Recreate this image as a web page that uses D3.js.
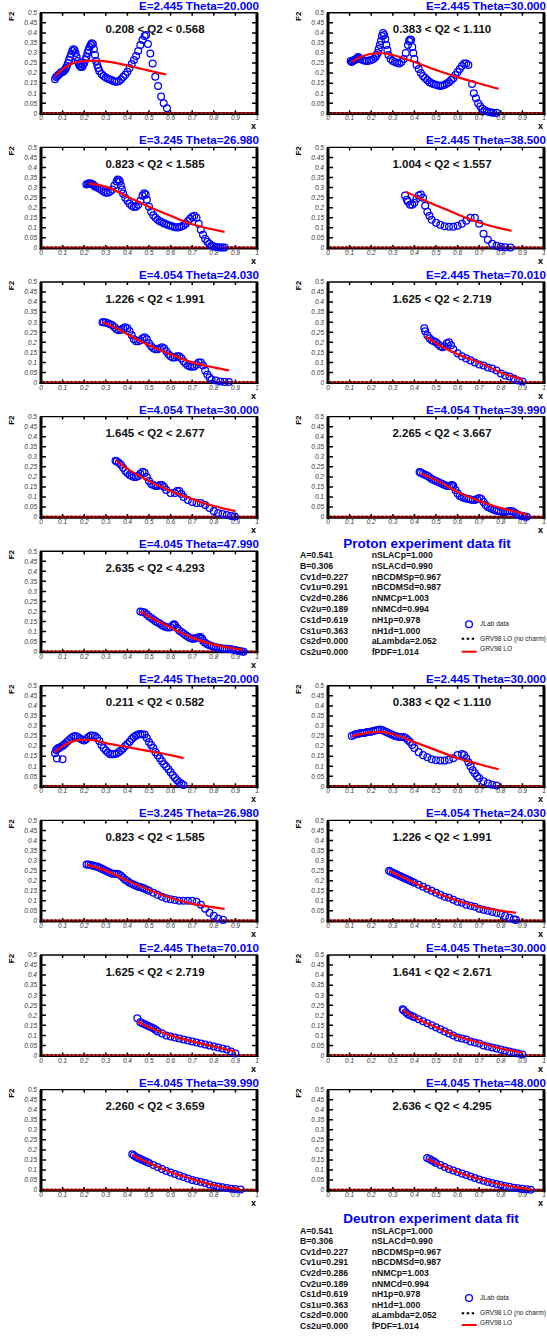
<!DOCTYPE html>
<html>
<head>
<meta charset="utf-8">
<script src="https://cdn.jsdelivr.net/npm/d3@7"></script>
<style>
  body { margin: 0; background: #fff; }
  svg { display: block; font-family: "Liberation Sans", Arial, sans-serif; }
</style>
</head>
<body>
<svg id="chart" width="547" height="1336"></svg>
<script>
// ---- data ----
var titles = [
  'E=2.445 Theta=20.000', 'E=2.445 Theta=30.000',
  'E=3.245 Theta=26.980', 'E=2.445 Theta=38.500',
  'E=4.054 Theta=24.030', 'E=2.445 Theta=70.010',
  'E=4.054 Theta=30.000', 'E=4.054 Theta=39.990',
  'E=4.045 Theta=47.990',
  'E=2.445 Theta=20.000', 'E=2.445 Theta=30.000',
  'E=3.245 Theta=26.980', 'E=4.054 Theta=24.030',
  'E=2.445 Theta=70.010', 'E=4.045 Theta=30.000',
  'E=4.045 Theta=39.990', 'E=4.045 Theta=48.000'
];
var q2Labels = [
  '0.208 < Q2 < 0.568', '0.383 < Q2 < 1.110',
  '0.823 < Q2 < 1.585', '1.004 < Q2 < 1.557',
  '1.226 < Q2 < 1.991', '1.625 < Q2 < 2.719',
  '1.645 < Q2 < 2.677', '2.265 < Q2 < 3.667',
  '2.635 < Q2 < 4.293',
  '0.211 < Q2 < 0.582', '0.383 < Q2 < 1.110',
  '0.823 < Q2 < 1.585', '1.226 < Q2 < 1.991',
  '1.625 < Q2 < 2.719', '1.641 < Q2 < 2.671',
  '2.260 < Q2 < 3.659', '2.636 < Q2 < 4.295'
];
// grid slot (col,row) of each panel
var slots = [[0,0],[1,0],[0,1],[1,1],[0,2],[1,2],[0,3],[1,3],[0,4],
             [0,5],[1,5],[0,6],[1,6],[0,7],[1,7],[0,8],[1,8]];

var jlab1 = [[0.065,0.17],[0.07,0.18],[0.075,0.185],[0.08,0.19],[0.085,0.195],[0.09,0.2],[0.095,0.205],[0.1,0.205],[0.105,0.21],[0.11,0.215],[0.115,0.225],[0.12,0.235],[0.125,0.25],[0.13,0.265],[0.135,0.28],[0.14,0.295],[0.145,0.31],[0.15,0.318],[0.155,0.315],[0.16,0.3],[0.165,0.28],[0.17,0.26],[0.175,0.245],[0.18,0.235],[0.185,0.23],[0.19,0.23],[0.195,0.24],[0.2,0.25],[0.205,0.265],[0.21,0.28],[0.215,0.3],[0.22,0.315],[0.225,0.33],[0.23,0.34],[0.235,0.348],[0.24,0.345],[0.245,0.32],[0.25,0.29],[0.255,0.26],[0.26,0.24],[0.265,0.225],[0.27,0.21],[0.28,0.195],[0.29,0.185],[0.3,0.178],[0.31,0.172],[0.32,0.168],[0.33,0.163],[0.34,0.158],[0.35,0.157],[0.36,0.16],[0.37,0.168],[0.38,0.18],[0.39,0.192],[0.4,0.207],[0.41,0.225],[0.42,0.245],[0.43,0.265],[0.44,0.285],[0.45,0.31],[0.46,0.34],[0.47,0.365],[0.48,0.385],[0.487,0.39],[0.495,0.345],[0.506,0.298],[0.517,0.248],[0.529,0.182],[0.542,0.136],[0.556,0.083],[0.568,0.05],[0.583,0.025]];
var jlab2 = [[0.105,0.26],[0.11,0.255],[0.115,0.26],[0.12,0.265],[0.125,0.265],[0.13,0.27],[0.135,0.275],[0.14,0.28],[0.145,0.275],[0.15,0.27],[0.16,0.265],[0.17,0.262],[0.18,0.26],[0.19,0.262],[0.2,0.265],[0.21,0.27],[0.22,0.28],[0.225,0.29],[0.23,0.3],[0.235,0.32],[0.24,0.34],[0.245,0.36],[0.25,0.385],[0.255,0.4],[0.26,0.39],[0.265,0.37],[0.27,0.34],[0.275,0.315],[0.28,0.29],[0.29,0.27],[0.3,0.26],[0.31,0.255],[0.32,0.25],[0.33,0.248],[0.34,0.255],[0.35,0.27],[0.36,0.3],[0.37,0.34],[0.375,0.36],[0.38,0.367],[0.385,0.365],[0.39,0.33],[0.395,0.3],[0.4,0.27],[0.41,0.24],[0.42,0.22],[0.43,0.2],[0.44,0.185],[0.45,0.175],[0.46,0.165],[0.47,0.155],[0.48,0.15],[0.49,0.145],[0.5,0.142],[0.51,0.138],[0.52,0.136],[0.53,0.138],[0.54,0.142],[0.55,0.148],[0.56,0.155],[0.57,0.165],[0.58,0.175],[0.59,0.19],[0.6,0.205],[0.61,0.22],[0.62,0.235],[0.63,0.248],[0.64,0.248],[0.65,0.24],[0.667,0.146],[0.675,0.1],[0.685,0.075],[0.695,0.05],[0.705,0.035],[0.715,0.022],[0.725,0.015],[0.735,0.01],[0.745,0.006],[0.755,0.004],[0.765,0.003],[0.78,0.002]];
var jlab3 = [[0.21,0.315],[0.215,0.318],[0.22,0.32],[0.225,0.322],[0.23,0.32],[0.235,0.318],[0.24,0.315],[0.245,0.31],[0.25,0.305],[0.26,0.3],[0.27,0.295],[0.28,0.288],[0.29,0.28],[0.3,0.275],[0.31,0.275],[0.32,0.28],[0.33,0.29],[0.34,0.31],[0.35,0.33],[0.355,0.34],[0.36,0.338],[0.365,0.33],[0.37,0.31],[0.375,0.29],[0.38,0.27],[0.39,0.25],[0.4,0.235],[0.41,0.22],[0.42,0.21],[0.43,0.203],[0.44,0.205],[0.45,0.215],[0.46,0.235],[0.47,0.26],[0.478,0.272],[0.485,0.265],[0.49,0.24],[0.5,0.205],[0.51,0.18],[0.52,0.162],[0.53,0.15],[0.54,0.14],[0.55,0.133],[0.56,0.128],[0.57,0.122],[0.58,0.118],[0.59,0.113],[0.6,0.11],[0.61,0.106],[0.62,0.103],[0.63,0.102],[0.64,0.103],[0.65,0.106],[0.66,0.112],[0.67,0.12],[0.68,0.132],[0.69,0.145],[0.7,0.155],[0.71,0.16],[0.72,0.15],[0.73,0.12],[0.74,0.09],[0.75,0.065],[0.76,0.045],[0.77,0.03],[0.78,0.02],[0.79,0.012],[0.8,0.007],[0.81,0.004],[0.82,0.003],[0.83,0.002],[0.84,0.002],[0.85,0.002]];
var jlab4 = [[0.357,0.26],[0.365,0.24],[0.37,0.23],[0.38,0.215],[0.39,0.215],[0.4,0.225],[0.41,0.245],[0.42,0.26],[0.43,0.265],[0.44,0.25],[0.45,0.21],[0.46,0.18],[0.47,0.16],[0.48,0.14],[0.5,0.125],[0.52,0.115],[0.54,0.108],[0.56,0.105],[0.58,0.105],[0.6,0.11],[0.62,0.12],[0.64,0.135],[0.66,0.15],[0.68,0.15],[0.7,0.12],[0.72,0.07],[0.74,0.04],[0.76,0.02],[0.78,0.01],[0.8,0.005],[0.82,0.003],[0.845,0.002]];
var jlab5 = [[0.285,0.3],[0.29,0.3],[0.3,0.298],[0.31,0.295],[0.32,0.29],[0.33,0.285],[0.34,0.275],[0.35,0.265],[0.36,0.26],[0.37,0.262],[0.38,0.27],[0.39,0.275],[0.4,0.27],[0.41,0.255],[0.42,0.235],[0.43,0.215],[0.44,0.205],[0.45,0.205],[0.46,0.21],[0.47,0.22],[0.48,0.225],[0.49,0.215],[0.5,0.195],[0.51,0.18],[0.52,0.17],[0.53,0.165],[0.54,0.165],[0.55,0.17],[0.56,0.175],[0.57,0.17],[0.58,0.155],[0.59,0.14],[0.6,0.13],[0.61,0.125],[0.62,0.125],[0.63,0.13],[0.64,0.13],[0.65,0.12],[0.66,0.105],[0.67,0.095],[0.68,0.085],[0.69,0.08],[0.7,0.078],[0.71,0.08],[0.72,0.09],[0.73,0.1],[0.74,0.1],[0.75,0.085],[0.76,0.06],[0.77,0.04],[0.78,0.025],[0.79,0.015],[0.81,0.01],[0.83,0.005],[0.85,0.003],[0.87,0.002]];
var jlab6 = [[0.446,0.27],[0.45,0.255],[0.46,0.235],[0.47,0.22],[0.48,0.21],[0.49,0.205],[0.5,0.2],[0.51,0.19],[0.52,0.18],[0.53,0.175],[0.54,0.18],[0.55,0.195],[0.56,0.2],[0.57,0.185],[0.58,0.165],[0.6,0.145],[0.62,0.13],[0.64,0.12],[0.66,0.11],[0.68,0.1],[0.7,0.09],[0.72,0.085],[0.74,0.075],[0.76,0.07],[0.78,0.06],[0.8,0.045],[0.82,0.035],[0.84,0.03],[0.86,0.02],[0.88,0.01],[0.9,0.005]];
var jlab7 = [[0.345,0.28],[0.35,0.278],[0.36,0.27],[0.37,0.26],[0.38,0.245],[0.39,0.23],[0.4,0.22],[0.41,0.21],[0.42,0.205],[0.43,0.2],[0.44,0.2],[0.45,0.205],[0.46,0.215],[0.47,0.225],[0.48,0.22],[0.49,0.2],[0.5,0.18],[0.51,0.165],[0.52,0.16],[0.53,0.155],[0.54,0.155],[0.55,0.16],[0.56,0.16],[0.57,0.15],[0.58,0.135],[0.6,0.12],[0.62,0.12],[0.63,0.13],[0.64,0.13],[0.65,0.115],[0.66,0.1],[0.68,0.085],[0.7,0.075],[0.72,0.07],[0.74,0.07],[0.76,0.06],[0.78,0.045],[0.8,0.03],[0.82,0.02],[0.84,0.015],[0.86,0.01],[0.88,0.005],[0.897,0.003]];
var jlab8 = [[0.424,0.224],[0.43,0.22],[0.44,0.215],[0.45,0.21],[0.46,0.205],[0.47,0.198],[0.48,0.19],[0.49,0.185],[0.5,0.18],[0.51,0.175],[0.52,0.17],[0.53,0.165],[0.54,0.16],[0.55,0.155],[0.56,0.155],[0.57,0.158],[0.575,0.16],[0.58,0.155],[0.59,0.135],[0.6,0.118],[0.61,0.105],[0.62,0.1],[0.63,0.095],[0.64,0.092],[0.65,0.09],[0.66,0.088],[0.67,0.085],[0.68,0.085],[0.69,0.09],[0.7,0.095],[0.71,0.09],[0.72,0.075],[0.73,0.06],[0.74,0.05],[0.75,0.045],[0.76,0.04],[0.77,0.035],[0.78,0.032],[0.79,0.03],[0.8,0.028],[0.81,0.026],[0.82,0.026],[0.83,0.028],[0.84,0.03],[0.85,0.03],[0.86,0.025],[0.87,0.018],[0.88,0.012],[0.89,0.008],[0.9,0.005],[0.91,0.003],[0.92,0.002]];
var jlab9 = [[0.46,0.2],[0.47,0.198],[0.48,0.195],[0.49,0.185],[0.5,0.175],[0.51,0.168],[0.52,0.16],[0.53,0.152],[0.54,0.145],[0.55,0.14],[0.56,0.132],[0.57,0.126],[0.58,0.122],[0.59,0.12],[0.6,0.122],[0.61,0.13],[0.615,0.137],[0.62,0.133],[0.63,0.118],[0.64,0.105],[0.65,0.098],[0.66,0.09],[0.67,0.082],[0.68,0.075],[0.69,0.068],[0.7,0.065],[0.71,0.065],[0.72,0.068],[0.73,0.072],[0.738,0.073],[0.745,0.065],[0.75,0.055],[0.76,0.045],[0.77,0.037],[0.78,0.032],[0.79,0.028],[0.8,0.025],[0.81,0.022],[0.82,0.02],[0.83,0.018],[0.84,0.016],[0.85,0.015],[0.86,0.014],[0.87,0.013],[0.88,0.012],[0.89,0.01],[0.9,0.008],[0.91,0.005],[0.92,0.003],[0.93,0.001],[0.938,0.0]];
var jlab10 = [[0.065,0.165],[0.07,0.18],[0.074,0.138],[0.075,0.185],[0.08,0.19],[0.085,0.19],[0.09,0.195],[0.1,0.135],[0.1,0.2],[0.105,0.205],[0.11,0.21],[0.12,0.22],[0.13,0.23],[0.14,0.24],[0.15,0.248],[0.16,0.25],[0.17,0.245],[0.18,0.238],[0.19,0.232],[0.2,0.228],[0.21,0.235],[0.22,0.245],[0.23,0.252],[0.24,0.252],[0.25,0.25],[0.26,0.24],[0.27,0.225],[0.28,0.205],[0.29,0.19],[0.3,0.178],[0.31,0.168],[0.32,0.16],[0.33,0.16],[0.34,0.16],[0.35,0.163],[0.36,0.17],[0.37,0.178],[0.38,0.188],[0.39,0.2],[0.4,0.21],[0.41,0.222],[0.42,0.235],[0.43,0.245],[0.44,0.252],[0.45,0.258],[0.46,0.26],[0.47,0.258],[0.48,0.258],[0.49,0.24],[0.5,0.22],[0.51,0.205],[0.52,0.19],[0.53,0.17],[0.54,0.155],[0.55,0.14],[0.56,0.125],[0.57,0.11],[0.58,0.098],[0.59,0.085],[0.6,0.07],[0.61,0.055],[0.62,0.042],[0.63,0.03],[0.64,0.02],[0.65,0.012],[0.66,0.006]];
var jlab11 = [[0.11,0.25],[0.12,0.255],[0.13,0.26],[0.14,0.26],[0.15,0.265],[0.16,0.265],[0.17,0.265],[0.18,0.27],[0.19,0.27],[0.2,0.272],[0.21,0.275],[0.22,0.278],[0.23,0.28],[0.24,0.282],[0.25,0.28],[0.26,0.275],[0.27,0.27],[0.28,0.265],[0.29,0.26],[0.3,0.255],[0.31,0.25],[0.32,0.248],[0.33,0.245],[0.34,0.245],[0.35,0.245],[0.36,0.24],[0.37,0.23],[0.38,0.22],[0.39,0.205],[0.4,0.19],[0.42,0.17],[0.44,0.155],[0.46,0.145],[0.48,0.135],[0.5,0.13],[0.52,0.128],[0.54,0.128],[0.56,0.132],[0.58,0.14],[0.6,0.155],[0.62,0.16],[0.63,0.155],[0.64,0.14],[0.65,0.12],[0.66,0.1],[0.67,0.08],[0.68,0.065],[0.69,0.05],[0.7,0.04],[0.72,0.025],[0.74,0.015],[0.76,0.008],[0.78,0.004]];
var jlab12 = [[0.211,0.28],[0.22,0.28],[0.23,0.278],[0.24,0.275],[0.25,0.272],[0.26,0.27],[0.27,0.265],[0.28,0.26],[0.29,0.255],[0.3,0.25],[0.31,0.245],[0.32,0.24],[0.33,0.235],[0.34,0.235],[0.35,0.235],[0.36,0.232],[0.37,0.225],[0.38,0.215],[0.39,0.205],[0.4,0.198],[0.41,0.19],[0.42,0.185],[0.43,0.18],[0.44,0.175],[0.45,0.17],[0.46,0.168],[0.47,0.165],[0.48,0.16],[0.49,0.155],[0.5,0.15],[0.52,0.14],[0.54,0.13],[0.56,0.12],[0.58,0.112],[0.6,0.108],[0.62,0.104],[0.64,0.1],[0.66,0.1],[0.68,0.1],[0.7,0.1],[0.72,0.095],[0.74,0.08],[0.76,0.06],[0.78,0.04],[0.8,0.025],[0.82,0.012],[0.843,0.005]];
var jlab13 = [[0.283,0.25],[0.29,0.245],[0.3,0.24],[0.31,0.235],[0.32,0.23],[0.33,0.225],[0.34,0.22],[0.35,0.215],[0.36,0.21],[0.37,0.205],[0.38,0.2],[0.39,0.195],[0.4,0.19],[0.42,0.18],[0.44,0.17],[0.46,0.16],[0.48,0.15],[0.5,0.14],[0.52,0.13],[0.54,0.12],[0.56,0.115],[0.58,0.105],[0.6,0.095],[0.62,0.09],[0.64,0.08],[0.66,0.075],[0.68,0.07],[0.7,0.06],[0.72,0.055],[0.74,0.05],[0.76,0.045],[0.78,0.04],[0.8,0.035],[0.82,0.025],[0.84,0.015],[0.86,0.008],[0.87,0.005]];
var jlab14 = [[0.446,0.185],[0.46,0.165],[0.47,0.16],[0.48,0.155],[0.49,0.15],[0.5,0.145],[0.51,0.14],[0.52,0.135],[0.53,0.128],[0.54,0.12],[0.56,0.11],[0.58,0.1],[0.6,0.095],[0.62,0.09],[0.64,0.085],[0.66,0.08],[0.68,0.075],[0.7,0.07],[0.72,0.065],[0.74,0.06],[0.76,0.055],[0.78,0.05],[0.8,0.045],[0.82,0.04],[0.84,0.035],[0.86,0.03],[0.88,0.02],[0.9,0.01]];
var jlab15 = [[0.346,0.23],[0.35,0.225],[0.36,0.215],[0.37,0.205],[0.38,0.2],[0.39,0.195],[0.4,0.19],[0.42,0.18],[0.44,0.17],[0.46,0.16],[0.48,0.15],[0.5,0.14],[0.52,0.13],[0.54,0.12],[0.56,0.11],[0.58,0.1],[0.6,0.09],[0.62,0.085],[0.64,0.08],[0.66,0.07],[0.68,0.065],[0.7,0.06],[0.72,0.05],[0.74,0.045],[0.76,0.04],[0.78,0.035],[0.8,0.03],[0.82,0.025],[0.84,0.02],[0.86,0.015],[0.88,0.01],[0.9,0.005]];
var jlab16 = [[0.4225,0.178],[0.43,0.172],[0.44,0.165],[0.45,0.16],[0.46,0.155],[0.47,0.15],[0.48,0.145],[0.49,0.14],[0.5,0.135],[0.52,0.125],[0.54,0.115],[0.56,0.105],[0.58,0.095],[0.6,0.088],[0.62,0.08],[0.64,0.072],[0.66,0.065],[0.68,0.058],[0.7,0.05],[0.72,0.045],[0.74,0.04],[0.76,0.035],[0.78,0.028],[0.8,0.022],[0.82,0.018],[0.84,0.014],[0.86,0.01],[0.88,0.007],[0.9,0.005],[0.924,0.003]];
var jlab17 = [[0.459,0.16],[0.47,0.155],[0.48,0.148],[0.49,0.142],[0.5,0.135],[0.52,0.125],[0.54,0.115],[0.56,0.105],[0.58,0.098],[0.6,0.09],[0.62,0.082],[0.64,0.075],[0.66,0.068],[0.68,0.06],[0.7,0.053],[0.72,0.047],[0.74,0.04],[0.76,0.035],[0.78,0.03],[0.8,0.025],[0.82,0.02],[0.84,0.016],[0.86,0.012],[0.88,0.009],[0.9,0.006],[0.92,0.004],[0.938,0.002]];

var grv1 = [[0.065,0.185],[0.1,0.22],[0.15,0.25],[0.2,0.26],[0.25,0.262],[0.3,0.258],[0.35,0.25],[0.4,0.238],[0.45,0.225],[0.5,0.212],[0.55,0.2],[0.58,0.193]];
var grv2 = [[0.11,0.255],[0.16,0.285],[0.24,0.3],[0.3,0.29],[0.4,0.255],[0.5,0.215],[0.6,0.18],[0.7,0.148],[0.79,0.122]];
var grv3 = [[0.22,0.32],[0.3,0.305],[0.4,0.255],[0.5,0.205],[0.6,0.16],[0.7,0.118],[0.85,0.08]];
var grv4 = [[0.36,0.28],[0.45,0.235],[0.55,0.19],[0.65,0.145],[0.75,0.11],[0.85,0.085]];
var grv5 = [[0.285,0.3],[0.35,0.27],[0.4,0.24],[0.5,0.185],[0.6,0.14],[0.7,0.1],[0.8,0.075],[0.87,0.06]];
var grv6 = [[0.45,0.23],[0.5,0.195],[0.6,0.14],[0.7,0.1],[0.8,0.05],[0.9,0.015]];
var grv7 = [[0.35,0.28],[0.4,0.24],[0.5,0.18],[0.6,0.13],[0.7,0.09],[0.8,0.055],[0.9,0.03]];
var grv8 = [[0.429,0.216],[0.5,0.185],[0.6,0.125],[0.7,0.08],[0.8,0.045],[0.921,0.013]];
var grv9 = [[0.46,0.2],[0.5,0.175],[0.6,0.12],[0.7,0.07],[0.8,0.035],[0.93,0.01]];
var grv10 = [[0.065,0.17],[0.1,0.2],[0.15,0.225],[0.2,0.232],[0.25,0.228],[0.3,0.215],[0.4,0.195],[0.5,0.175],[0.6,0.155],[0.66,0.14]];
var grv11 = [[0.11,0.25],[0.2,0.268],[0.25,0.27],[0.3,0.26],[0.4,0.22],[0.5,0.18],[0.6,0.14],[0.7,0.11],[0.79,0.085]];
var grv12 = [[0.211,0.28],[0.3,0.25],[0.4,0.2],[0.5,0.155],[0.6,0.115],[0.7,0.085],[0.85,0.06]];
var grv13 = [[0.283,0.25],[0.4,0.19],[0.5,0.14],[0.6,0.1],[0.7,0.07],[0.87,0.04]];
var grv14 = [[0.446,0.17],[0.5,0.14],[0.6,0.1],[0.7,0.07],[0.8,0.045],[0.9,0.02]];
var grv15 = [[0.346,0.225],[0.4,0.19],[0.5,0.14],[0.6,0.095],[0.7,0.065],[0.8,0.035],[0.9,0.015]];
var grv16 = [[0.4225,0.175],[0.5,0.135],[0.6,0.09],[0.7,0.055],[0.8,0.025],[0.92,0.005]];
var grv17 = [[0.459,0.155],[0.5,0.135],[0.6,0.09],[0.7,0.055],[0.8,0.028],[0.9,0.01],[0.938,0.005]];

var jlab = [jlab1,jlab2,jlab3,jlab4,jlab5,jlab6,jlab7,jlab8,jlab9,jlab10,jlab11,jlab12,jlab13,jlab14,jlab15,jlab16,jlab17];
var grv = [grv1,grv2,grv3,grv4,grv5,grv6,grv7,grv8,grv9,grv10,grv11,grv12,grv13,grv14,grv15,grv16,grv17];

var xTicks = [0, 0.1, 0.2, 0.3, 0.4, 0.5, 0.6, 0.7, 0.8, 0.9, 1];
var yTicks = [0, 0.05, 0.1, 0.15, 0.2, 0.25, 0.3, 0.35, 0.4, 0.45, 0.5];

var paramsLeft = ['A=0.541','B=0.306','Cv1d=0.227','Cv1u=0.291','Cv2d=0.286','Cv2u=0.189','Cs1d=0.619','Cs1u=0.363','Cs2d=0.000','Cs2u=0.000'];
var paramsRight = ['nSLACp=1.000','nSLACd=0.990','nBCDMSp=0.967','nBCDMSd=0.987','nNMCp=1.003','nNMCd=0.994','nH1p=0.978','nH1d=1.000','aLambda=2.052','fPDF=1.014'];
var legendLabels = ['JLab data', 'GRV98 LO (no charm)', 'GRV98 LO'];
var fitBoxes = [
  {title: 'Proton experiment data fit', cx: 427, ty: 548, row0: 558, dy: 10.8, leg: [624.3, 638.7, 651.7]},
  {title: 'Deutron experiment data fit', cx: 431, ty: 1222.5, row0: 1233.5, dy: 10.6, leg: [1298, 1313.3, 1325]}
];

// ---- drawing ----
var svg = d3.select('#chart');
svg.append('rect').attr('width', 547).attr('height', 1336).attr('fill', '#fff');

var colX = [41, 328];
var plotW = 216, plotH = 100.5;
var rowBottom = function(r) { return 113.3 + 134.6 * r; };

var blue = '#0000ff', red = '#ff0000';

jlab.forEach(function(data, i) {
    var col = slots[i][0], row = slots[i][1];
    var left = colX[col], bottom = rowBottom(row), top = bottom - plotH, right = left + plotW;
    var x = d3.scaleLinear().domain([0, 1]).range([left, right]);
    var y = d3.scaleLinear().domain([0, 0.5]).range([bottom, top]);
    var g = svg.append('g');

    // tick labels
    g.selectAll('.yl').data(yTicks).enter().append('text')
        .attr('x', left - 4).attr('y', function(d) { return y(d) + 2.3; })
        .attr('text-anchor', 'end').attr('font-size', 6.5).attr('font-style', 'italic')
        .attr('fill', '#333').text(function(d) { return d3.format('')(d); });
    g.selectAll('.xl').data(xTicks).enter().append('text')
        .attr('x', function(d) { return x(d); }).attr('y', bottom + 7)
        .attr('text-anchor', 'middle').attr('font-size', 6.5).attr('font-style', 'italic')
        .attr('fill', '#333').text(function(d) { return d3.format('')(d); });

    // frame
    g.append('line').attr('x1', left - 1).attr('x2', right + 1).attr('y1', top).attr('y2', top)
        .attr('stroke', '#000').attr('stroke-width', 1.4);
    g.append('line').attr('x1', left - 1.5).attr('x2', right + 1.5).attr('y1', bottom + 0.8).attr('y2', bottom + 0.8)
        .attr('stroke', '#000').attr('stroke-width', 1.6);
    g.append('line').attr('x1', left).attr('x2', left).attr('y1', top).attr('y2', bottom + 1.5)
        .attr('stroke', '#000').attr('stroke-width', 3);
    g.append('line').attr('x1', right).attr('x2', right).attr('y1', top).attr('y2', bottom + 1.5)
        .attr('stroke', '#000').attr('stroke-width', 3);

    // ticks
    g.selectAll('.ty').data(yTicks.slice(1, -1)).enter().append('path')
        .attr('d', function(d) {
            return 'M' + left + ',' + y(d) + 'h5M' + right + ',' + y(d) + 'h-5';
        })
        .attr('stroke', '#000').attr('stroke-width', 1.5);
    g.selectAll('.tx').data(xTicks.slice(1, -1)).enter().append('path')
        .attr('d', function(d) {
            return 'M' + x(d) + ',' + bottom + 'v-3M' + x(d) + ',' + top + 'v3';
        })
        .attr('stroke', '#000').attr('stroke-width', 1.5);

    // zero curves (GRV98 LO and no-charm dashed)
    g.append('line').attr('x1', left + 1.5).attr('x2', right - 1.5).attr('y1', y(0) - 0.5).attr('y2', y(0) - 0.5)
        .attr('stroke', red).attr('stroke-width', 1.6);
    g.append('line').attr('x1', left + 1.5).attr('x2', right - 1.5).attr('y1', y(0) - 0.5).attr('y2', y(0) - 0.5)
        .attr('stroke', '#000').attr('stroke-width', 1.6).attr('stroke-dasharray', '2,2');

    // JLab data
    g.selectAll('circle').data(data).enter().append('circle')
        .attr('cx', function(d) { return x(d[0]); })
        .attr('cy', function(d) { return y(d[1]); })
        .attr('r', 3.4).attr('fill', 'none').attr('stroke', blue).attr('stroke-width', 1.25);

    // GRV98 LO fit
    var line = d3.line().x(function(d) { return x(d[0]); }).y(function(d) { return y(d[1]); })
        .curve(d3.curveCatmullRom);
    g.append('path').attr('d', line(grv[i])).attr('fill', 'none')
        .attr('stroke', red).attr('stroke-width', 2.2);

    // labels
    g.append('text').attr('x', right + 2).attr('y', top - 3).attr('text-anchor', 'end')
        .attr('font-size', 11.6).attr('font-weight', 'bold').attr('fill', blue).text(titles[i]);
    g.append('text').attr('x', (left + right) / 2 + 6).attr('y', top + 20.5).attr('text-anchor', 'middle')
        .attr('font-size', 11.5).attr('font-weight', 'bold').attr('fill', '#111').text(q2Labels[i]);
    g.append('text').attr('transform', 'translate(' + (left - 27.5) + ',' + (top + 3.5) + ') rotate(-90)')
        .attr('text-anchor', 'middle').attr('font-size', 8).attr('font-weight', 'bold').text('F2');
    g.append('text').attr('x', right - 3.5).attr('y', bottom + 16).attr('text-anchor', 'middle')
        .attr('font-size', 9).attr('font-weight', 'bold').text('x');
});

// fit parameter boxes
fitBoxes.forEach(function(b) {
    var g = svg.append('g');
    g.append('text').attr('x', b.cx).attr('y', b.ty).attr('text-anchor', 'middle')
        .attr('font-size', 13.5).attr('font-weight', 'bold').attr('fill', blue).text(b.title);
    g.selectAll('.pl').data(paramsLeft).enter().append('text')
        .attr('x', 300).attr('y', function(d, k) { return b.row0 + k * b.dy; })
        .attr('font-size', 8.7).attr('font-weight', 'bold').attr('fill', '#111').text(function(d) { return d; });
    g.selectAll('.pr').data(paramsRight).enter().append('text')
        .attr('x', 371.7).attr('y', function(d, k) { return b.row0 + k * b.dy; })
        .attr('font-size', 8.7).attr('font-weight', 'bold').attr('fill', '#111').text(function(d) { return d; });
    // legend
    g.append('circle').attr('cx', 469).attr('cy', b.leg[0]).attr('r', 3.4)
        .attr('fill', 'none').attr('stroke', blue).attr('stroke-width', 1.3);
    g.append('line').attr('x1', 461.7).attr('x2', 476.7).attr('y1', b.leg[1]).attr('y2', b.leg[1])
        .attr('stroke', '#000').attr('stroke-width', 2).attr('stroke-dasharray', '2.5,2.5');
    g.append('line').attr('x1', 461.7).attr('x2', 476.7).attr('y1', b.leg[2]).attr('y2', b.leg[2])
        .attr('stroke', red).attr('stroke-width', 2);
    g.selectAll('.lt').data(legendLabels).enter().append('text')
        .attr('x', 480).attr('y', function(d, k) { return b.leg[k] + (k === 2 ? -0.5 : 2); })
        .attr('font-size', 6.6).attr('fill', '#222').text(function(d) { return d; });
});
</script>
</body>
</html>
